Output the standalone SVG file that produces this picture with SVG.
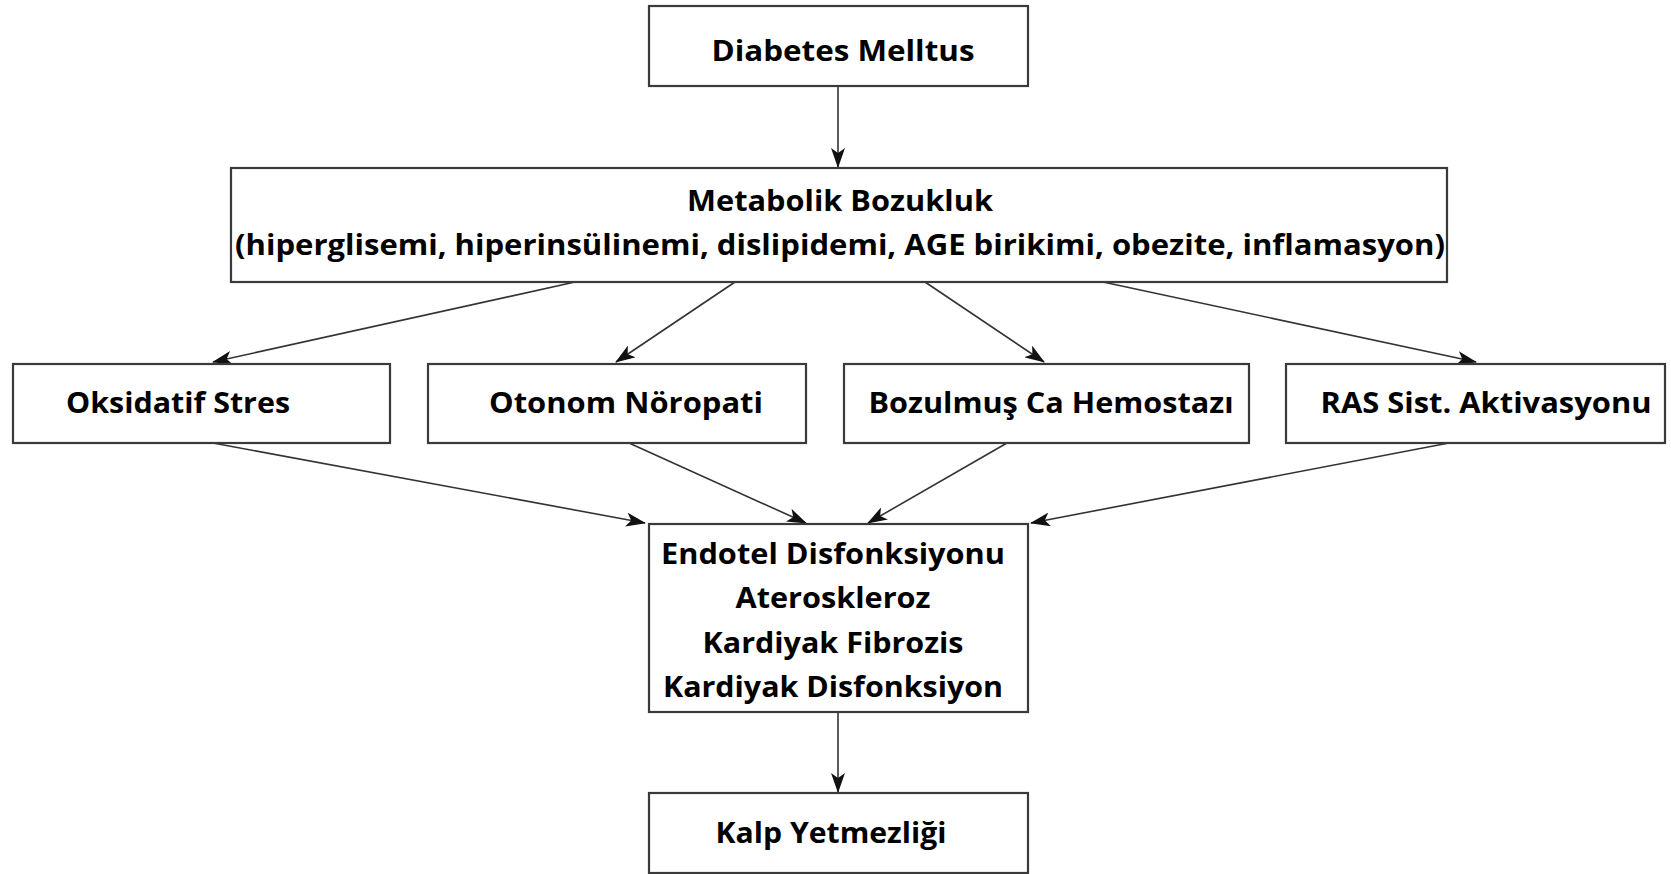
<svg xmlns="http://www.w3.org/2000/svg" width="1671" height="874" viewBox="0 0 1671 874">
<defs>
<style>
.box{fill:#fff;stroke:#3a3a3a;stroke-width:2.2}
.t{font-family:"Open Sans","Liberation Sans",sans-serif;font-weight:700;font-size:28px;fill:#000;text-anchor:middle}
.c{stroke:#333;stroke-width:1.6;fill:none;marker-end:url(#ah)}
</style>
<marker id="ah" viewBox="0 0 20 14" refX="19" refY="7" markerWidth="20" markerHeight="14" markerUnits="userSpaceOnUse" orient="auto">
<path d="M0,0 L20,7 L0,14 L5,7 Z" fill="#111"/>
</marker>
</defs>
<rect width="1671" height="874" fill="#fff"/>
<g id="connectors">
<line class="c" x1="838" y1="86" x2="838" y2="167"/>
<line class="c" x1="575" y1="282" x2="213" y2="362"/>
<line class="c" x1="735" y1="282" x2="616" y2="362"/>
<line class="c" x1="925" y1="282" x2="1044" y2="362"/>
<line class="c" x1="1103" y1="282" x2="1476" y2="362"/>
<line class="c" x1="213" y1="443" x2="645" y2="523"/>
<line class="c" x1="629" y1="443" x2="806" y2="523"/>
<line class="c" x1="1007" y1="443" x2="868" y2="523"/>
<line class="c" x1="1449" y1="443" x2="1031" y2="523"/>
<line class="c" x1="838" y1="712" x2="838" y2="792"/>
</g>
<g id="diabetes">
<rect class="box" x="649" y="6" width="379" height="80"/>
<text class="t" x="843" y="61" textLength="263" lengthAdjust="spacingAndGlyphs">Diabetes Melltus</text>
</g>
<g id="metabolik">
<rect class="box" x="231" y="168" width="1216" height="114"/>
<text class="t" x="840" y="211" textLength="306" lengthAdjust="spacingAndGlyphs">Metabolik Bozukluk</text>
<text class="t" x="840" y="255" textLength="1210" lengthAdjust="spacingAndGlyphs">(hiperglisemi, hiperinsülinemi, dislipidemi, AGE birikimi, obezite, inflamasyon)</text>
</g>
<g id="oksidatif">
<rect class="box" x="13" y="364" width="377" height="79"/>
<text class="t" x="178" y="413" textLength="224" lengthAdjust="spacingAndGlyphs">Oksidatif Stres</text>
</g>
<g id="otonom">
<rect class="box" x="428" y="364" width="378" height="79"/>
<text class="t" x="626" y="413" textLength="274" lengthAdjust="spacingAndGlyphs">Otonom Nöropati</text>
</g>
<g id="bozulmus">
<rect class="box" x="844" y="364" width="405" height="79"/>
<text class="t" x="1051" y="413" textLength="365" lengthAdjust="spacingAndGlyphs">Bozulmuş Ca Hemostazı</text>
</g>
<g id="ras">
<rect class="box" x="1286" y="364" width="379" height="79"/>
<text class="t" x="1486" y="413" textLength="331" lengthAdjust="spacingAndGlyphs">RAS Sist. Aktivasyonu</text>
</g>
<g id="endotel">
<rect class="box" x="649" y="524" width="379" height="188"/>
<text class="t" x="833" y="564" textLength="344" lengthAdjust="spacingAndGlyphs">Endotel Disfonksiyonu</text>
<text class="t" x="833" y="608" textLength="195" lengthAdjust="spacingAndGlyphs">Ateroskleroz</text>
<text class="t" x="833" y="653" textLength="261" lengthAdjust="spacingAndGlyphs">Kardiyak Fibrozis</text>
<text class="t" x="833" y="697" textLength="340" lengthAdjust="spacingAndGlyphs">Kardiyak Disfonksiyon</text>
</g>
<g id="kalp">
<rect class="box" x="649" y="793" width="379" height="80"/>
<text class="t" x="831" y="843" textLength="231" lengthAdjust="spacingAndGlyphs">Kalp Yetmezliği</text>
</g>
</svg>
